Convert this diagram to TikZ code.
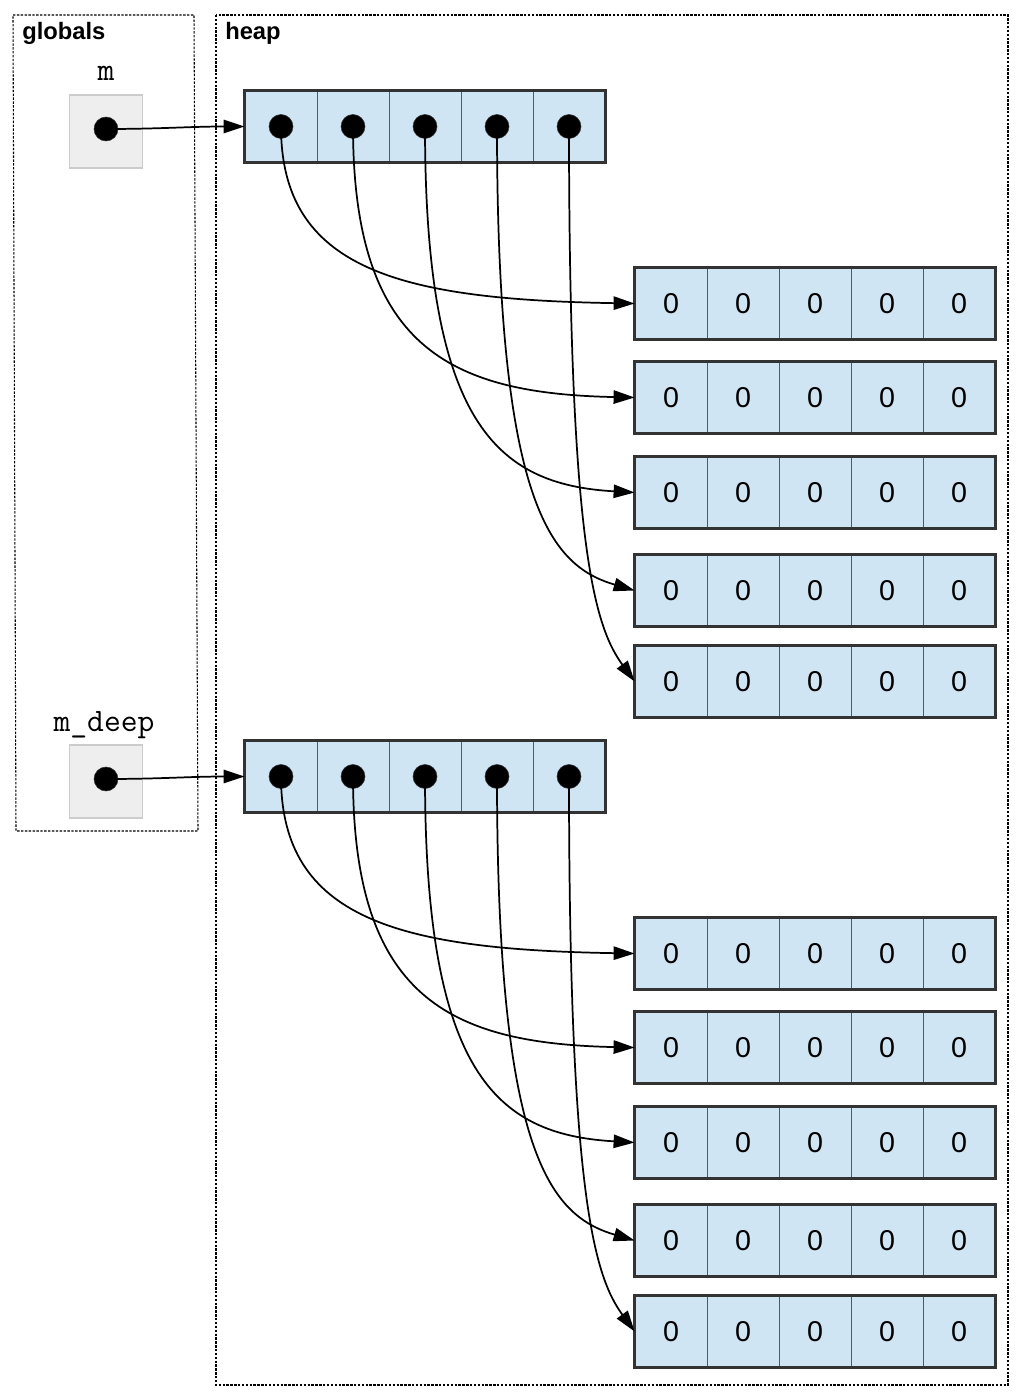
\documentclass[tikz,border=0pt]{standalone}
\usepackage{fontspec}
\setmainfont{Liberation Sans}
\usetikzlibrary{arrows.meta}
\definecolor{heapblue}{HTML}{D0E5F3}
\definecolor{slotgray}{HTML}{EEEEEE}
\definecolor{slotline}{HTML}{CCCCCC}
\tikzset{
  frame/.style={draw=black, line width=0.8pt, dash pattern=on 1.8pt off 1.1pt},
  title/.style={anchor=base west, inner sep=0, font=\fontsize{17.8}{20}\selectfont\bfseries},
  varname/.style={anchor=base, inner sep=0, font=\fontsize{24.5}{27}\selectfont\ttfamily},
  slot/.style={draw=slotline, fill=slotgray, line width=0.8pt, minimum size=54.75pt, inner sep=0},
  dot/.style={circle, fill=black, draw=black!80, minimum size=18pt, inner sep=0},
  cell/.style={draw=black!65, fill=heapblue, line width=0.6pt, minimum width=54pt, minimum height=53.25pt, inner sep=0},
  zero/.style={font=\fontsize{21.5}{24}\selectfont},
  outer/.style={draw=black!80, line width=1.7pt},
  ptr/.style={draw, line width=1.3pt, -{Triangle[length=15.75pt, width=10pt]}},
}
\begin{document}
\begin{tikzpicture}[x=0.75pt,y=-0.75pt]
\useasboundingbox (0,0) rectangle (1018,1398);
% frames
\draw[frame] (13,15) -- (194,15) -- (198,831) -- (16,831) -- cycle;
\draw[frame] (216,15) rectangle (1008,1385);
\node[title] (tglob) at (22,40) {globals};
\node[title] (theap) at (225,40) {heap};

% global variables
\node[varname] (nm) at (106,81) {m};
\node[slot] (sm) at (106,131.5) {};
\node[dot] (gm) at (106,129) {};
\node[varname] (nd) at (104,731) {m\_deep};
\node[slot] (sd) at (106,781.5) {};
\node[dot] (gd) at (106,779) {};

% the two heap structures
\foreach \g/\dy in {m/0,d/650}{
  \foreach \i in {1,...,5}{
    \node[cell] (\g-a\i) at ({281+72*(\i-1)},{126.5+\dy}) {};
    \node[dot] (\g-p\i) at (\g-a\i) {};
  }
  \draw[outer] (\g-a1.north west) rectangle (\g-a5.south east);
  \foreach \i/\y in {1/303.5,2/397.5,3/492.5,4/590.5,5/681.5}{
    \foreach \j in {1,...,5}
      \node[cell,zero] (\g-r\i-c\j) at ({671+72*(\j-1)},{\y+\dy}) {0};
    \draw[outer] (\g-r\i-c1.north west) rectangle (\g-r\i-c5.south east);
  }
  % inner pointers
  \foreach \i/\a/\b/\c in {1/143/-235/-4,2/220/-186/-4,3/296/-139/-8,4/376/-85/-25,5/420/-40/-55}
    \draw[ptr] (\g-p\i.center) .. controls +(0,\a) and +(\b,\c) .. (\g-r\i-c1.west);
}

% globals to heap
\draw[ptr] (gm.center) to[out=0,in=180] (m-a1.west);
\draw[ptr] (gd.center) to[out=0,in=180] (d-a1.west);
\end{tikzpicture}
\end{document}
